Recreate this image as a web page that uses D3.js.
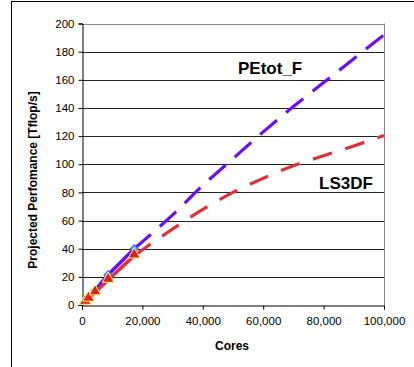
<!DOCTYPE html>
<html>
<head>
<meta charset="utf-8">
<script src="https://cdn.jsdelivr.net/npm/d3@7"></script>
<style>
  body { margin: 0; background: #fff; }
  svg { display: block; font-family: "Liberation Sans", Arial, sans-serif; }
</style>
</head>
<body>
<svg width="414" height="367"></svg>
<script>
// measured points (cores, Tflop/s)
const measuredCores = [1080, 2160, 4320, 8640, 17280];
const petotMeasured = [2.4, 4.9, 10.3, 21.5, 40];
const ls3dfMeasured = [2.2, 4.4, 8.9, 17.8, 35.1];

// projections
const projCores = [17280, 30000, 40000, 50000, 60000, 70000, 80000, 90000, 100000];
const petotProj = [40, 64, 85, 104, 123, 141, 158, 175, 192];
const ls3dfProj = [35.1, 54, 68, 80, 90, 99, 106, 113, 120.5];

const yTicks = [0, 20, 40, 60, 80, 100, 120, 140, 160, 180, 200];
const xTicks = [0, 20000, 40000, 60000, 80000, 100000];

const svg = d3.select("svg");

const area = { left: 82, right: 384, top: 23.5, bottom: 305 };

const scX = d3.scaleLinear().domain([0, 100000]).range([area.left, area.right]);
const scY = d3.scaleLinear().domain([0, 200]).range([area.bottom, area.top]);

// outer frame
svg.append("rect")
  .attr("x", 11.5).attr("y", 1.5)
  .attr("width", 600).attr("height", 600)
  .attr("fill", "none").attr("stroke", "#000");

// grid
svg.append("g")
  .selectAll("line")
  .data(yTicks.slice(1))
  .enter()
  .append("line")
  .attr("x1", area.left).attr("x2", area.right)
  .attr("y1", (d) => Math.round(scY(d)) + 0.5)
  .attr("y2", (d) => Math.round(scY(d)) + 0.5)
  .attr("stroke", (d) => (d === 200 ? "#888" : "#222"))
  .attr("stroke-width", 1);

// right border of plot area
svg.append("line")
  .attr("x1", area.right + 0.5).attr("x2", area.right + 0.5)
  .attr("y1", scY(200)).attr("y2", area.bottom)
  .attr("stroke", "#888");

// axes
const axisY = d3.axisLeft(scY).tickValues(yTicks).tickSize(4).tickPadding(4);
const gy = svg.append("g")
  .attr("transform", `translate(${area.left + 0.5},0)`)
  .call(axisY);
gy.selectAll("text").style("font-size", "11.5px").attr("fill", "#000");
gy.select(".domain").attr("stroke", "#000");

const axisX = d3.axisBottom(scX).tickValues(xTicks).tickSize(4).tickPadding(7)
  .tickFormat(d3.format(","));
const gx = svg.append("g")
  .attr("transform", `translate(0,${area.bottom + 0.5})`)
  .call(axisX);
gx.selectAll("text").style("font-size", "11.5px").attr("fill", "#000");
gx.select(".domain").attr("stroke", "#000");

// axis titles
svg.append("text")
  .attr("transform", "translate(37,180) rotate(-90)")
  .attr("text-anchor", "middle")
  .style("font-size", "12px")
  .style("font-weight", "bold")
  .text("Projected Perfomance [Tflop/s]");

svg.append("text")
  .attr("x", 232).attr("y", 350)
  .attr("text-anchor", "middle")
  .style("font-size", "12px")
  .style("font-weight", "bold")
  .text("Cores");

const purple = "#6a0dff";
const red = "#e2303a";

const line = d3.line().x((d) => scX(d[0])).y((d) => scY(d[1]));
const smooth = d3.line().curve(d3.curveMonotoneX).x((d) => scX(d[0])).y((d) => scY(d[1]));

// dashed projections
svg.append("path")
  .datum(projCores.map((c, i) => [c, ls3dfProj[i]]))
  .attr("d", smooth)
  .attr("fill", "none").attr("stroke", red)
  .attr("stroke-width", 3.2).attr("stroke-dasharray", "20,14");

svg.append("path")
  .datum(projCores.map((c, i) => [c, petotProj[i]]))
  .attr("d", smooth)
  .attr("fill", "none").attr("stroke", purple)
  .attr("stroke-width", 3.2).attr("stroke-dasharray", "22,12");

// measured solid lines
svg.append("path")
  .datum([[0, 0]].concat(measuredCores.map((c, i) => [c, petotMeasured[i]])))
  .attr("d", line)
  .attr("fill", "none").attr("stroke", purple).attr("stroke-width", 3.5);

svg.append("path")
  .datum([[0, 0]].concat(measuredCores.map((c, i) => [c, ls3dfMeasured[i]])))
  .attr("d", line)
  .attr("fill", "none").attr("stroke", red).attr("stroke-width", 3.5);

// markers: diamonds drawn as rotated squares
svg.append("g")
  .selectAll("path")
  .data(measuredCores.map((c, i) => [c, petotMeasured[i]]))
  .enter()
  .append("path")
  .attr("d", d3.symbol(d3.symbolSquare, 30))
  .attr("transform", (d) => `translate(${scX(d[0])},${scY(d[1])}) rotate(45)`)
  .attr("fill", "#66b3ff").attr("stroke", "#3a6bff").attr("stroke-width", 1.2);

svg.append("g")
  .selectAll("path")
  .data(measuredCores.map((c, i) => [c, ls3dfMeasured[i]]))
  .enter()
  .append("path")
  .attr("d", d3.symbol(d3.symbolTriangle, 60))
  .attr("transform", (d) => `translate(${scX(d[0])},${scY(d[1]) - 1})`)
  .attr("fill", "#e02020").attr("stroke", "#ffff66").attr("stroke-width", 1);

// series labels
svg.append("text")
  .attr("x", 238).attr("y", 74)
  .style("font-size", "17px").style("font-weight", "bold")
  .text("PEtot_F");

svg.append("text")
  .attr("x", 319).attr("y", 189)
  .style("font-size", "17px").style("font-weight", "bold")
  .text("LS3DF");
</script>
</body>
</html>
